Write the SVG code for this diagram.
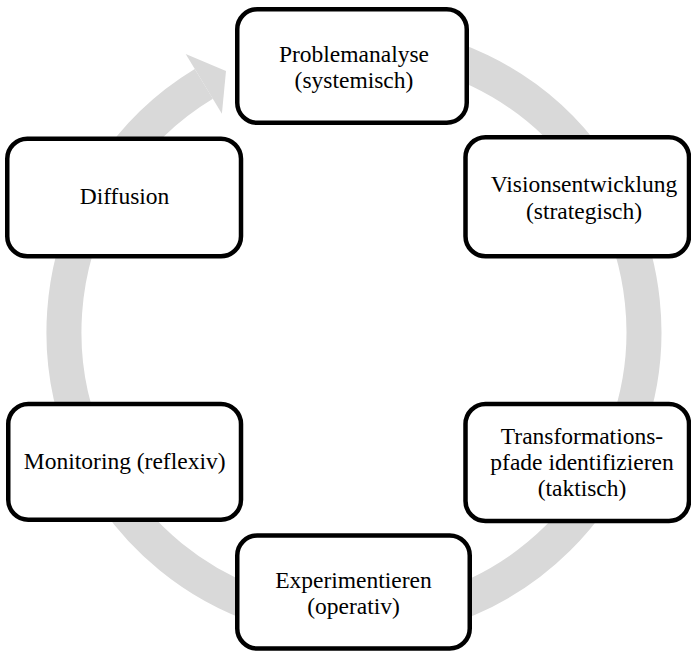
<svg xmlns="http://www.w3.org/2000/svg" width="691" height="652" viewBox="0 0 691 652">
  <style>
    .box { fill: #ffffff; stroke: #000000; stroke-width: 4.5; }
    .lbl { font-family: "Liberation Serif", "Times New Roman", serif; font-size: 23.5px; fill: #000000; text-anchor: middle; }
    .ring { fill: none; stroke: #d9d9d9; stroke-width: 35; }
    .head { fill: #d9d9d9; stroke: none; }
  </style>
  <rect x="0" y="0" width="691" height="652" fill="#ffffff"/>
  <g id="connectors">
    <path class="ring" d="M 354 42 A 290 290 0 1 1 203.8 83.9"/>
    <polygon class="head" points="185.7,54 226,71 221.9,113.8"/>
  </g>
  <g id="node-problemanalyse">
    <rect class="box" x="237.25" y="9.25" width="229.5" height="113.5" rx="20" ry="20"/>
    <text class="lbl" x="354" y="62">Problemanalyse</text>
    <text class="lbl" x="354" y="88">(systemisch)</text>
  </g>
  <g id="node-vision">
    <rect class="box" x="465.5" y="137.25" width="223.5" height="119" rx="20" ry="20"/>
    <text class="lbl" x="584" y="192">Visionsentwicklung</text>
    <text class="lbl" x="584" y="218.5">(strategisch)</text>
  </g>
  <g id="node-transformation">
    <rect class="box" x="465.5" y="404" width="223.5" height="117" rx="20" ry="20"/>
    <text class="lbl" x="582" y="443.5">Transformations-</text>
    <text class="lbl" x="582" y="470">pfade identifizieren</text>
    <text class="lbl" x="582" y="496">(taktisch)</text>
  </g>
  <g id="node-experimentieren">
    <rect class="box" x="237.25" y="535.5" width="232.5" height="113" rx="20" ry="20"/>
    <text class="lbl" x="353.5" y="588">Experimentieren</text>
    <text class="lbl" x="353.5" y="614">(operativ)</text>
  </g>
  <g id="node-monitoring">
    <rect class="box" x="8.25" y="404" width="232.75" height="115.75" rx="20" ry="20"/>
    <text class="lbl" x="124.7" y="469">Monitoring (reflexiv)</text>
  </g>
  <g id="node-diffusion">
    <rect class="box" x="7.25" y="138.75" width="233.75" height="117.5" rx="20" ry="20"/>
    <text class="lbl" x="124.5" y="204">Diffusion</text>
  </g>
</svg>
